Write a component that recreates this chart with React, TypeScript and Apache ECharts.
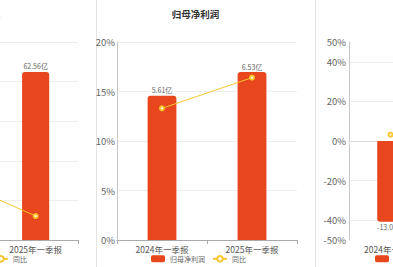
import React, { useEffect, useRef } from 'react';
import * as echarts from 'echarts';

const categories = ['2024年一季报', '2025年一季报'];
const panelTitles = ['营业总收入', '归母净利润', '现金流'];
const yoyName = '同比';

const revenueValues = [55.8, 62.56];
const revenueYoy = [31.0, 12.1];
const profitValues = [5.61, 6.53];
const profitYoy = [13.3, 16.4];
const cashValues = [-13.06, -9.8];
const cashYoy = [3.2, 24.9];

const pctAxis1 = { min: 0, max: 100, interval: 20 };
const pctAxis2 = { min: 0, max: 20, interval: 5 };
const pctAxis3 = { min: -50, max: 50, interval: 10 };
const pctLabels3 = [-50, -40, -20, 0, 20, 40, 50];
const barAxis1 = { min: 0, max: 73.7 };
const barAxis2 = { min: 0, max: 7.7 };
const barAxis3 = { min: -16, max: 16 };

const BAR = '#E8461C';
const YEL = '#F8C630';
const FONT = 'Noto Sans CJK SC';
const W = 654;
const H = 267;
const OFFSET = 121;

export default function App() {
  const ref = useRef<HTMLDivElement>(null);
  useEffect(() => {
    if (!ref.current) return;
    const chart = echarts.init(ref.current, undefined, { renderer: 'svg' });
    const grids = [
      { left: 19, width: 180, top: 42, height: 198 },
      { left: 238, width: 180, top: 42, height: 198 },
      { left: 470, width: 166, top: 42, height: 198 },
    ];
    const xAxes = grids.map((_, i) => ({
      type: 'category',
      gridIndex: i,
      data: categories,
      axisLine: { lineStyle: { color: i === 2 ? '#dddddd' : '#aaaaaa', width: 1 } },
      axisTick: { show: true, length: 4, lineStyle: { color: i === 2 ? '#dddddd' : '#aaaaaa' } },
      axisLabel: { fontSize: 8.5, lineHeight: 9, color: '#555', margin: 4, fontFamily: FONT },
      splitLine: { show: false },
    }));
    const pctAxes = [pctAxis1, pctAxis2, pctAxis3];
    const barAxes = [barAxis1, barAxis2, barAxis3];
    const yAxes: any[] = [];
    pctAxes.forEach((a, i) => {
      yAxes.push({
        type: 'value',
        gridIndex: i,
        min: a.min,
        max: a.max,
        interval: a.interval,
        axisLine: { show: true, lineStyle: { color: '#c8c8c8' } },
        axisTick: { show: false },
        axisLabel: {
          fontSize: 9.5,
          color: '#666',
          margin: i === 2 ? 3 : 2,
          fontFamily: FONT,
          formatter: (v: number) =>
            i === 2 ? (pctLabels3.includes(Math.round(v)) ? `${Math.round(v)}%` : '') : `${v}%`,
        },
        splitLine: {
          show: true,
          lineStyle: {
            color:
              i === 2
                ? ['rgba(0,0,0,0)', '#eeeeee', 'rgba(0,0,0,0)', '#eeeeee', 'rgba(0,0,0,0)', '#999999',
                   'rgba(0,0,0,0)', '#eeeeee', 'rgba(0,0,0,0)', '#eeeeee', 'rgba(0,0,0,0)']
                : '#eeeeee',
          },
        },
      });
    });
    barAxes.forEach((a, i) => {
      yAxes.push({
        type: 'value',
        gridIndex: i,
        min: a.min,
        max: a.max,
        show: false,
        splitLine: { show: false },
      });
    });

    const barSets = [revenueValues, profitValues, cashValues];
    const yoySets = [revenueYoy, profitYoy, cashYoy];
    const series: any[] = [];
    barSets.forEach((vals, i) => {
      series.push({
        type: 'bar',
        name: panelTitles[i],
        xAxisIndex: i,
        yAxisIndex: 3 + i,
        barWidth: '32%',
        data: vals.map((v) => ({
          value: v,
          itemStyle: { borderRadius: v < 0 ? [0, 0, 3, 3] : [3, 3, 0, 0] },
          label: { position: v < 0 ? 'bottom' : 'top' },
        })),
        itemStyle: { color: BAR },
        label: {
          show: true,
          distance: 2,
          fontSize: 7,
          color: '#666',
          fontFamily: FONT,
          formatter: (p: any) => `${Number(p.value).toFixed(2)}亿`,
        },
      });
    });
    yoySets.forEach((vals, i) => {
      series.push({
        type: 'line',
        name: yoyName,
        xAxisIndex: i,
        yAxisIndex: i,
        data: vals,
        symbol: 'emptyCircle',
        symbolSize: 4,
        itemStyle: { color: YEL },
        lineStyle: { color: YEL, width: 1 },
        z: 5,
      });
    });

    const legendLefts = [53, 272, 496];
    const legends = legendLefts.map((l, i) => ({
      left: l,
      top: 255,
      padding: 0,
      data: [panelTitles[i], yoyName],
      itemWidth: 14,
      itemHeight: 7,
      itemGap: 7,
      selectedMode: false,
      textStyle: { fontSize: 7, lineHeight: 7, color: '#666', fontFamily: FONT },
    }));

    const titleX = [97.5, 316.5, 535.5];
    const graphic: any[] = titleX.map((x, i) => ({
      type: 'text',
      x,
      y: 14,
      style: {
        text: panelTitles[i],
        textAlign: 'center',
        textVerticalAlign: 'middle',
        fontSize: 9.5,
        fontWeight: 'bold',
        fill: '#333',
        fontFamily: FONT,
      },
    }));
    [217.5, 436.5].forEach((x) =>
      graphic.push({
        type: 'line',
        shape: { x1: x, y1: 0, x2: x, y2: H },
        style: { stroke: '#e3e3e3', lineWidth: 1 },
      })
    );

    chart.setOption({
      animation: false,
      backgroundColor: '#ffffff',
      textStyle: { fontFamily: FONT },
      grid: grids,
      xAxis: xAxes,
      yAxis: yAxes,
      legend: legends,
      graphic,
      series,
    });
    return () => chart.dispose();
  }, []);

  return (
    <div style={{ position: 'fixed', left: 0, top: 0, width: 393, height: H, overflow: 'hidden', background: '#fff' }}>
      <div ref={ref} style={{ position: 'absolute', left: -OFFSET, top: 0, width: W, height: H }} />
    </div>
  );
}
